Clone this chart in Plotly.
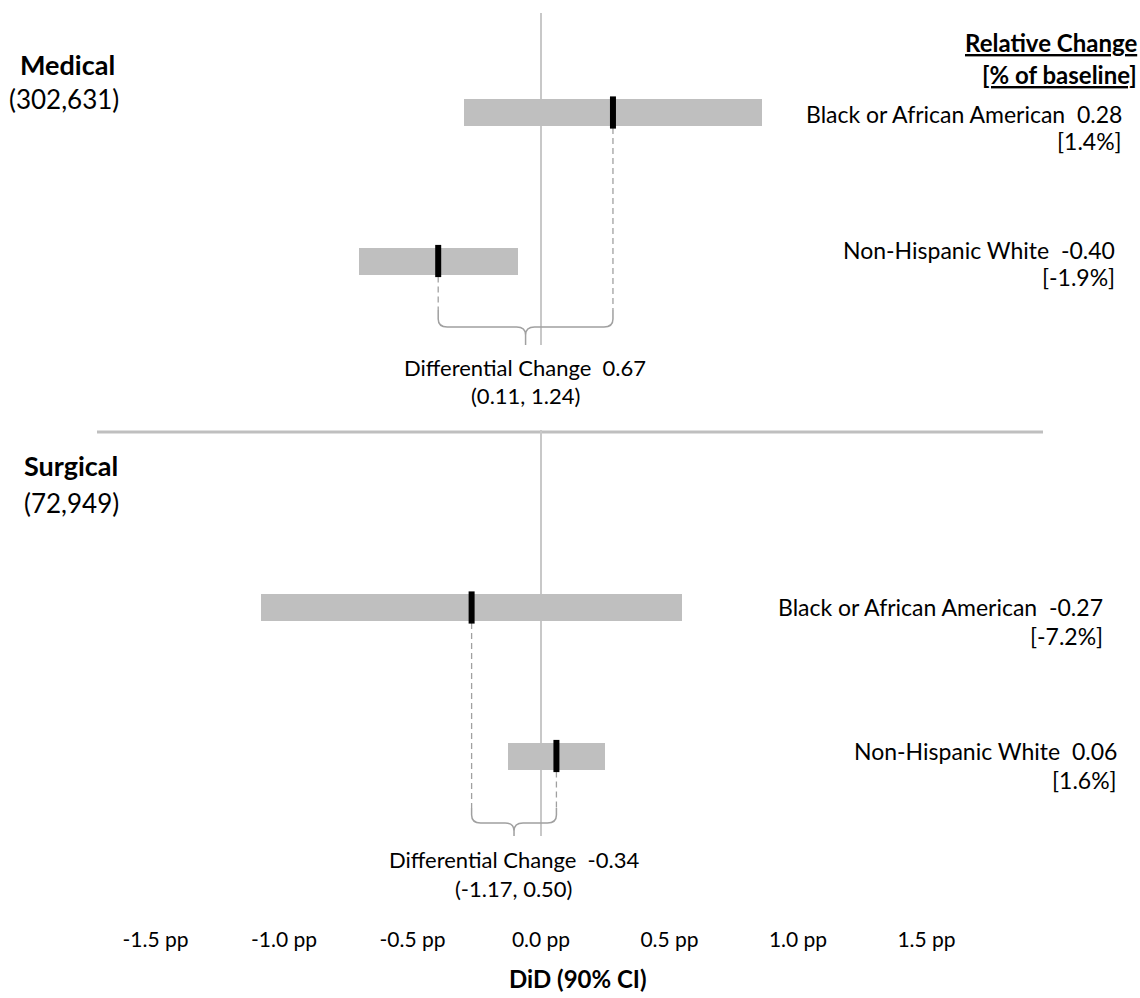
import plotly.graph_objects as go

# ---------------- data ----------------
groups = ["Medical", "Surgical"]
group_n = ["(302,631)", "(72,949)"]
races = ["Black or African American", "Non-Hispanic White"]

did_medical = [0.28, -0.40]
lo_medical = [-0.30, -0.71]
hi_medical = [0.86, -0.09]
rel_medical = ["1.4%", "-1.9%"]

did_surgical = [-0.27, 0.06]
lo_surgical = [-1.09, -0.13]
hi_surgical = [0.55, 0.25]
rel_surgical = ["-7.2%", "1.6%"]

diff_est = [0.67, -0.34]
diff_lo = [0.11, -1.17]
diff_hi = [1.24, 0.50]

tick_vals = [-1.5, -1.0, -0.5, 0.0, 0.5, 1.0, 1.5]
tick_text = ["-1.5 pp", "-1.0 pp", "-0.5 pp", "0.0 pp", "0.5 pp", "1.0 pp", "1.5 pp"]

# ---------------- layout constants (pixel-space y axis) ----------------
W, H = 1140, 998
ML, MR, MT, MB = 27, 85, 0, 73
PLOT_H = H - MT - MB
row_y = [[112.5, 261], [607.5, 756]]          # bar centres per group
bar_h = 27
brace_top = [310, 808]
brace_mid = [327, 823]
brace_tip = [345, 836]
zero_spans = [[13, 345], [430, 836]]
label_right = [[1124, 1117], [1105, 1119]]
label_y = [[114, 250], [607, 751]]
rel_y = [[141, 277], [636, 780]]
group_lab = [(67, 64, 99, "center"), (22, 465, 503, "left")]
diff_txt = [(525, 367, 395), (514, 859, 888)]

FONT = "Lato"
GREY = "#bfbfbf"
DASH = "#a0a0a0"

def px(xp):
    return (xp - ML) / (W - ML - MR)

fig = go.Figure()
shapes = []
annos = []

data = [
    (did_medical, lo_medical, hi_medical, rel_medical),
    (did_surgical, lo_surgical, hi_surgical, rel_surgical),
]

for g, (est, lo, hi, rel) in enumerate(data):
    ys = row_y[g]
    # CI bars
    fig.add_trace(go.Bar(
        y=ys, x=[h - l for l, h in zip(lo, hi)], base=lo, orientation="h",
        width=bar_h, marker=dict(color=GREY, line=dict(width=0)),
        hoverinfo="skip", showlegend=False))
    # dashed connectors
    for i in range(2):
        fig.add_trace(go.Scatter(
            x=[est[i], est[i]], y=[ys[i] + bar_h / 2 + 2, brace_top[g]],
            mode="lines", line=dict(color=DASH, width=1.3, dash="6px,4px"),
            hoverinfo="skip", showlegend=False))
    # point estimates
    fig.add_trace(go.Scatter(
        x=est, y=ys, mode="markers",
        marker=dict(symbol="line-ns", size=bar_h - 4,
                    line=dict(color="black", width=6)),
        hoverinfo="skip", showlegend=False))
    # zero line
    shapes.append(dict(type="line", xref="x", yref="y", x0=0, x1=0,
                       y0=zero_spans[g][0], y1=zero_spans[g][1],
                       line=dict(color="#c8c8c8", width=2), layer="below"))
    # brace
    a, b = sorted(est)
    m = (est[0] + est[1]) / 2
    t, c, tip = brace_top[g], brace_mid[g], brace_tip[g]
    r = 0.035
    path = (f"M {a},{t} L {a},{c-8} Q {a},{c} {a+r},{c} "
            f"L {m-r},{c} Q {m},{c} {m},{c+8} L {m},{tip} "
            f"M {m},{c+8} Q {m},{c} {m+r},{c} "
            f"L {b-r},{c} Q {b},{c} {b},{c-8} L {b},{t}")
    shapes.append(dict(type="path", xref="x", yref="y", path=path,
                       line=dict(color=DASH, width=1.5)))
    # right labels
    for i in range(2):
        annos.append(dict(
            x=px(label_right[g][i]), y=label_y[g][i], xref="paper", yref="y",
            text=f"{races[i]} \u00a0{est[i]:.2f}", showarrow=False,
            xanchor="right", yanchor="middle", font=dict(size=23)))
        annos.append(dict(
            x=px(label_right[g][i]), y=rel_y[g][i], xref="paper", yref="y",
            text=f"[{rel[i]}]", showarrow=False,
            xanchor="right", yanchor="middle", font=dict(size=23)))
    # group labels
    gx, gy1, gy2, anc = group_lab[g]
    annos.append(dict(x=px(gx), y=gy1, xref="paper", yref="y",
                      text=f"<b>{groups[g]}</b>", showarrow=False,
                      xanchor=anc, yanchor="middle", font=dict(size=27)))
    annos.append(dict(x=px(gx if anc == "left" else gx - 3), y=gy2, xref="paper", yref="y",
                      text=group_n[g], showarrow=False,
                      xanchor=anc, yanchor="middle", font=dict(size=26)))
    # differential change
    dx, dy1, dy2 = diff_txt[g]
    annos.append(dict(x=px(dx), y=dy1, xref="paper", yref="y",
                      text=f"Differential Change \u00a0{diff_est[g]:.2f}",
                      showarrow=False, xanchor="center", yanchor="middle",
                      font=dict(size=22)))
    annos.append(dict(x=px(dx), y=dy2, xref="paper", yref="y",
                      text=f"({diff_lo[g]:.2f}, {diff_hi[g]:.2f})",
                      showarrow=False, xanchor="center", yanchor="middle",
                      font=dict(size=22)))

# separator
shapes.append(dict(type="line", xref="paper", yref="y", x0=px(97), x1=px(1043),
                   y0=432, y1=432, line=dict(color=GREY, width=3), layer="below"))

# header
annos.append(dict(x=px(1139), y=42, xref="paper", yref="y",
                  text="<b><u>Relative Change</u></b>", showarrow=False,
                  xanchor="right", yanchor="middle", font=dict(size=24)))
annos.append(dict(x=px(1139), y=74, xref="paper", yref="y",
                  text="<b><u>[% of baseline]</u></b>", showarrow=False,
                  xanchor="right", yanchor="middle", font=dict(size=24)))
# axis title
annos.append(dict(x=px(578), y=-(978 - PLOT_H) / PLOT_H, xref="paper", yref="paper",
                  text="<b>DiD (90% CI)</b>", showarrow=False,
                  xanchor="center", yanchor="middle", font=dict(size=24)))

fig.update_layout(
    width=W, height=H, autosize=False,
    margin=dict(l=ML, r=MR, t=MT, b=MB, pad=0),
    paper_bgcolor="white", plot_bgcolor="white",
    font=dict(family=FONT, color="#000000", size=22),
    shapes=shapes, annotations=annos, bargap=0,
    xaxis=dict(range=[-2, 2], tickvals=tick_vals, ticktext=tick_text,
               showgrid=False, zeroline=False, showline=False, ticks="",
               tickfont=dict(size=21), fixedrange=True),
    yaxis=dict(range=[PLOT_H, 0], visible=False, showgrid=False,
               zeroline=False, fixedrange=True),
)

fig.write_html("out.html", config={"displayModeBar": False},
               post_script="document.body.style.margin='0';")
